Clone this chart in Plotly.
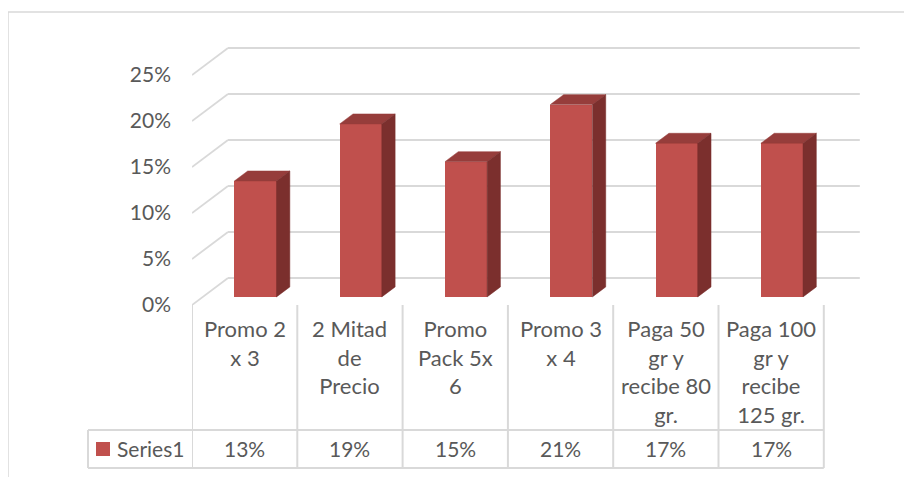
import plotly.graph_objects as go

# ---------------- data ----------------
categories = ["Promo 2<br>x 3", "2 Mitad<br>de<br>Precio", "Promo<br>Pack 5x<br>6",
              "Promo 3<br>x 4", "Paga 50<br>gr y<br>recibe 80<br>gr.", "Paga 100<br>gr y<br>recibe<br>125 gr."]
values = [12.6, 18.8, 14.7, 20.9, 16.7, 16.7]   # percent
series_name = "Series1"
y_ticks = [0, 5, 10, 15, 20, 25]

# ---------------- layout constants ----------------
OFF = 8                                  # page body margin of the browser
W, H = 912, 477
L, R, T, B = 192, 860, 40, 305           # plot area in window px
PX_CAT = 105.3                           # px per category
PX_PCT = 9.2                             # px per percent
X0 = -0.5
XR = X0 + (R - L) / PX_CAT
YR = (B - T) / PX_PCT
DX = 36 / PX_CAT                         # oblique depth offset (data units)
DY = 27 / PX_PCT
F1, F2 = 0.30, 0.67                      # bar front / back depth fractions
BW = 0.40                                # bar width

FRONT = "#C0504D"
TOP = "#963D3B"
SIDE = "#7B2F2D"
GRID = "#D9D9D9"
TXT = "#595959"
FONT = "Lato"


def py(p):  # window px -> paper y
    return (B - p) / (B - T)


def ppx(p):  # window px -> paper x
    return (p - L) / (R - L)


fig = go.Figure()

n = len(values)
xs = [i + DX * F1 for i in range(n)]
base = DY * F1
ddx, ddy = DX * (F2 - F1), DY * (F2 - F1)

# front faces
fig.add_trace(go.Bar(x=xs, y=values, base=base, width=BW,
                     marker=dict(color=FRONT, line=dict(width=0)),
                     hoverinfo="skip", showlegend=False))

# top and side faces
tx, ty, sx, sy = [], [], [], []
for xc, v in zip(xs, values):
    xl, xr = xc - BW / 2, xc + BW / 2
    top = v + base
    tx += [xl, xr, xr + ddx, xl + ddx, xl, None]
    ty += [top, top, top + ddy, top + ddy, top, None]
    sx += [xr, xr, xr + ddx, xr + ddx, xr, None]
    sy += [base, top, top + ddy, base + ddy, base, None]
fig.add_trace(go.Scatter(x=tx, y=ty, mode="lines", fill="toself", fillcolor=TOP,
                         line=dict(width=0.5, color=TOP), hoverinfo="skip", showlegend=False))
fig.add_trace(go.Scatter(x=sx, y=sy, mode="lines", fill="toself", fillcolor=SIDE,
                         line=dict(width=0.5, color=SIDE), hoverinfo="skip", showlegend=False))

shapes = []
# wall gridlines
for t in y_ticks:
    shapes.append(dict(type="line", xref="x", yref="y", x0=X0, y0=t, x1=X0 + DX, y1=t + DY,
                       line=dict(color=GRID, width=1.8), layer="below"))
    shapes.append(dict(type="line", xref="x", yref="y", x0=X0 + DX, y0=t + DY, x1=n - 0.5 + DX, y1=t + DY,
                       line=dict(color=GRID, width=1.8), layer="below"))

# data table
row1_y, row2_y = 430, 468
leg_left = ppx(88)
for k in range(n + 1):
    shapes.append(dict(type="line", xref="x", yref="paper", x0=X0 + k, x1=X0 + k,
                       y0=py(B), y1=py(row2_y), line=dict(color=GRID, width=2)))
shapes.append(dict(type="line", xref="paper", yref="paper", x0=leg_left, x1=leg_left,
                   y0=py(row1_y), y1=py(row2_y), line=dict(color=GRID, width=2)))
for yy in (row1_y, row2_y):
    shapes.append(dict(type="line", xref="paper", yref="paper", x0=leg_left, x1=ppx(L + n * PX_CAT),
                       y0=py(yy), y1=py(yy), line=dict(color=GRID, width=2)))
# legend key
shapes.append(dict(type="rect", xref="paper", yref="paper", x0=ppx(96), x1=ppx(110),
                   y0=py(456), y1=py(442), fillcolor=FRONT, line=dict(width=0)))
# chart border
shapes.append(dict(type="rect", xref="paper", yref="paper",
                   x0=ppx(8), x1=ppx(930), y0=py(495), y1=py(12),
                   line=dict(color=GRID, width=1.5)))

annotations = []
for i, c in enumerate(categories):
    annotations.append(dict(x=i, y=py(313), xref="x", yref="paper", text=c, showarrow=False,
                            xanchor="center", yanchor="top", align="center",
                            font=dict(family=FONT, size=22, color=TXT)))
    annotations.append(dict(x=i, y=py(449), xref="x", yref="paper", text=f"{values[i]:.0f}%",
                            showarrow=False, xanchor="center", yanchor="middle",
                            font=dict(family=FONT, size=21, color=TXT)))
annotations.append(dict(x=ppx(115), y=py(449), xref="paper", yref="paper", text=series_name,
                        showarrow=False, xanchor="left", yanchor="middle",
                        font=dict(family=FONT, size=21, color=TXT)))

fig.update_layout(
    width=W - OFF, height=H - OFF,
    margin=dict(l=L - OFF, r=W - R, t=T - OFF, b=H - B, pad=0),
    paper_bgcolor="white", plot_bgcolor="rgba(0,0,0,0)",
    xaxis=dict(range=[X0, XR], visible=False, fixedrange=True),
    yaxis=dict(range=[0, YR], tickvals=y_ticks, ticktext=[f"{t}%" for t in y_ticks],
               showgrid=False, zeroline=False, showline=False, ticks="",
               ticklabelstandoff=20, tickfont=dict(family=FONT, size=21, color=TXT)),
    shapes=shapes, annotations=annotations, showlegend=False, bargap=0,
)

fig.write_html("out.html")
